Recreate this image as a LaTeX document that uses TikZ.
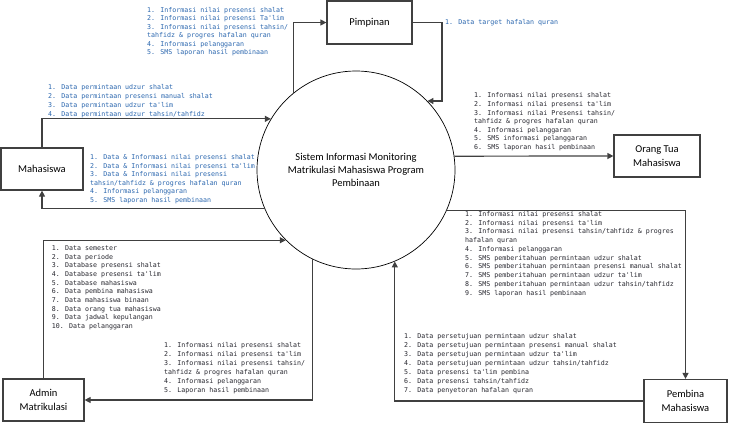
\documentclass[tikz,border=0pt]{standalone}
\usepackage{fontspec}
\setmainfont{Carlito}
\newfontfamily\monof{DejaVu Sans Mono}
\usetikzlibrary{arrows.meta}
\definecolor{txtblue}{HTML}{2A66AE}
\definecolor{txtdark}{HTML}{26262E}
\definecolor{linegray}{HTML}{404040}
\begin{document}
\begin{tikzpicture}[x=1pt,y=-1pt,
  entity/.style={draw=linegray, line width=1.2pt, fill=white, inner sep=2pt, align=center,
    font=\fontsize{10.5}{13.5}\selectfont, text=black},
  process/.style={circle, draw=black, line width=0.7pt, minimum size=198pt, inner sep=0pt,
    align=center, font=\fontsize{10.5}{13}\selectfont},
  flow/.style={draw=linegray, line width=1.2pt, -{Triangle[length=6pt,width=6pt]}},
  lbl/.style={anchor=north west, inner sep=0pt, align=left,
    font=\monof\fontsize{6.62}{#1}\selectfont},
  lbl/.default=8.6,
  blu/.style={text=txtblue},
  drk/.style={text=txtdark}]
\useasboundingbox (0,0) rectangle (730,424);

% process
\node[process] (sys) at (356,170) {Sistem Informasi Monitoring\\Matrikulasi Mahasiswa Program\\Pembinaan};

% entities
\node[entity, minimum width=85pt, minimum height=43pt] (pim) at (369.5,22.5) {Pimpinan};
\node[entity, minimum width=82pt, minimum height=42pt] (mhs) at (42,169) {Mahasiswa};
\node[entity, minimum width=81pt, minimum height=42pt] (adm) at (43.5,400) {Admin\\Matrikulasi};
\node[entity, minimum width=86pt, minimum height=42pt] (ortu) at (657,156) {Orang Tua\\Mahasiswa};
\node[entity, minimum width=83pt, minimum height=43pt] (pem) at (685.5,401) {Pembina\\Mahasiswa};

\coordinate (p1) at (442,22.5);

% connectors
\draw[flow] (sys.129.5) |- (pim.west);
\draw[flow] (pim.east) -- (p1) |- (sys.44.2);
\draw[flow] (mhs.north) |- (sys.149);
\draw[flow] (sys.203.2) -| (mhs.south);
\draw[flow] (adm.north) |- (sys.225);
\draw[flow] (sys.244.3) |- (adm.east);
\draw[flow] (sys.8.1) -- (ortu.west);
\draw[flow] (sys.336.8) -| (pem.north);
\draw[flow] (pem.west) -| (sys.293.2);

% labels
\node[lbl=8.5, blu] (t1) at (147,7) {1. Informasi nilai presensi shalat\\2. Informasi nilai presensi Ta'lim\\3. Informasi nilai presensi tahsin/\\tahfidz \& progres hafalan quran\\4. Informasi pelanggaran\\5. SMS laporan hasil pembinaan};
\node[lbl, blu] (t2) at (445,19.7) {1. Data target hafalan quran};
\node[lbl=8.9, blu] (t3) at (48,84.3) {1. Data permintaan udzur shalat\\2. Data permintaan presensi manual shalat\\3. Data permintaan udzur ta'lim\\4. Data permintaan udzur tahsin/tahfidz};
\node[lbl=8.5, blu] (t4) at (90,154.7) {1. Data \& Informasi nilai presensi shalat\\2. Data \& Informasi nilai presensi ta'lim\\3. Data \& Informasi nilai presensi\\tahsin/tahfidz \& progres hafalan quran\\4. Informasi pelanggaran\\5. SMS laporan hasil pembinaan};
\node[lbl=8.6, drk] (t5) at (474,92.7) {1. Informasi nilai presensi shalat\\2. Informasi nilai presensi ta'lim\\3. Informasi nilai Presensi tahsin/\\tahfidz \& progres hafalan quran\\4. Informasi pelanggaran\\5. SMS informasi pelanggaran\\6. SMS laporan hasil pembinaan};
\node[lbl=8.75, drk] (t6) at (465,211) {1. Informasi nilai presensi shalat\\2. Informasi nilai presensi ta'lim\\3. Informasi nilai presensi tahsin/tahfidz \& progres\\hafalan quran\\4. Informasi pelanggaran\\5. SMS pemberitahuan permintaan udzur shalat\\6. SMS pemberitahuan permintaan presensi manual shalat\\7. SMS pemberitahuan permintaan udzur ta'lim\\8. SMS pemberitahuan permintaan udzur tahsin/tahfidz\\9. SMS laporan hasil pembinaan};
\node[lbl=8.67, drk] (t7) at (51.7,245.3) {1. Data semester\\2. Data periode\\3. Database presensi shalat\\4. Database presensi ta'lim\\5. Database mahasiswa\\6. Data pembina mahasiswa\\7. Data mahasiswa binaan\\8. Data orang tua mahasiswa\\9. Data jadwal kepulangan\\10. Data pelanggaran};
\node[lbl=8.85, drk] (t8) at (164,342.7) {1. Informasi nilai presensi shalat\\2. Informasi nilai presensi ta'lim\\3. Informasi nilai presensi tahsin/\\tahfidz \& progres hafalan quran\\4. Informasi pelanggaran\\5. Laporan hasil pembinaan};
\node[lbl=9.0, drk] (t9) at (404,333.7) {1. Data persetujuan permintaan udzur shalat\\2. Data persetujuan permintaan presensi manual shalat\\3. Data persetujuan permintaan udzur ta'lim\\4. Data persetujuan permintaan udzur tahsin/tahfidz\\5. Data presensi ta'lim pembina\\6. Data presensi tahsin/tahfidz\\7. Data penyetoran hafalan quran};
\end{tikzpicture}
\end{document}
